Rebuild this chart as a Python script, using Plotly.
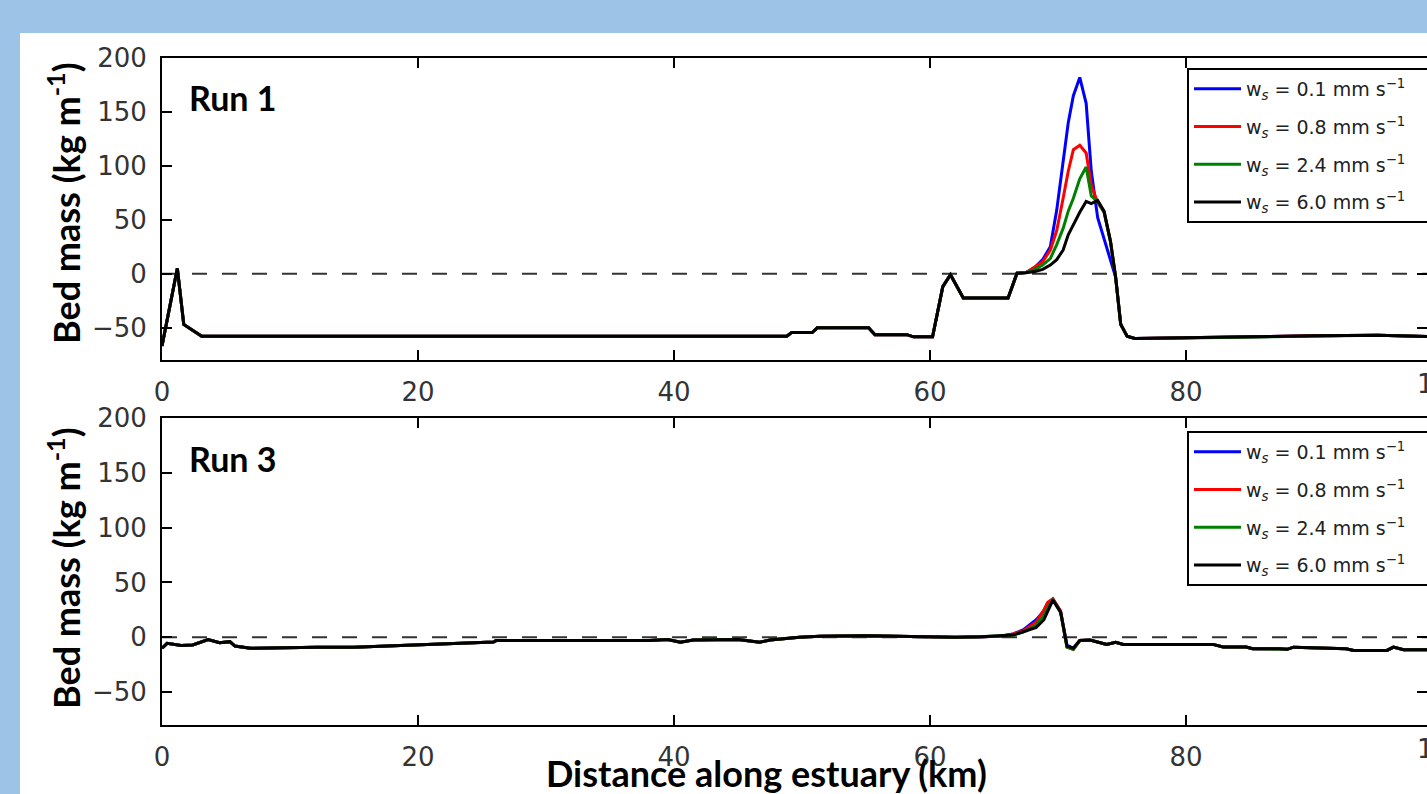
import plotly.graph_objects as go

# ---------------- data ----------------
# Run 1 (top panel)
run1_x = [0, 1.2, 1.7, 3.1, 48.8, 49.2, 50.8, 51.2, 55.2, 55.7, 58.2, 58.7, 60.2, 61.0, 61.6,
          62.6, 66.1, 66.8, 67.5, 68.2, 68.8, 69.4, 69.9, 70.4, 70.8, 71.2, 71.7, 72.2, 72.6,
          73.1, 73.6, 74.1, 74.5, 74.9, 75.4, 76.0, 80, 85, 90, 95, 100]
run1_common = [-67, 5, -47, -58, -58, -54.5, -54.5, -50, -50, -56.5, -56.5, -58.5, -58.5, -12, -1,
               -22.5, -22.5, 0.5, 1]
run1_blue_peak = [6, 13, 25, 59, 106, 140, 165, 182, 158, 95, 52, 32, 14, -3, -47, -58, -60,
                  -59.5, -58.5, -57.5, -57, -58.5]
run1_red_peak = [6, 11, 22, 40, 70, 95, 115, 119, 112, 82, 66, 57, 30, -3, -47, -58, -60,
                 -59.5, -58.5, -57.5, -57, -58.5]
run1_green_peak = [4, 8, 14, 27, 42, 58, 70, 88, 99, 72, 67, 57, 30, -3, -47, -58, -60,
                   -59.5, -58.5, -57.5, -57, -58.5]
run1_black_peak = [2, 4, 8, 13, 22, 36, 46, 57, 67, 65, 68, 58, 30, -3, -47, -58, -60,
                   -59.5, -58.5, -57.5, -57, -58.5]

# Run 3 (bottom panel)
run3_x = [0, 0.4, 1.5, 2.4, 3.6, 4.5, 5.3, 5.7, 6.9, 9, 12.1, 15, 17.3, 20, 22.5, 25.9, 26.1,
          30, 35, 38.1, 39.5, 40.5, 41.5, 43, 45, 46.7, 47.5, 49.8, 51.4, 55, 58, 60, 62, 64,
          65.5, 66.5, 67.3, 68.3, 68.9, 69.2, 69.6, 70.2, 70.7, 71.2, 71.7, 72.5, 73.8, 74.5,
          75.1, 82.1, 82.9, 84.7, 85.2, 87.3, 87.9, 88.4, 92.5, 93.1, 95.7, 96.2, 97, 100]
run3_head = [-10, -5.5, -7.5, -7, -2, -5, -4, -8, -10, -9.5, -9, -9, -8, -7, -5.5, -4.3, -3,
             -3, -3, -3, -2, -4.5, -2.5, -2, -2, -4.5, -2.5, 0, 1, 1.5, 1, 0, 0, 0.5, 1]
run3_blue_peak = [3, 7, 16, 24, 31, 35, 24, -7, -10]
run3_red_peak = [3, 6, 14, 25, 32, 35, 24, -9, -11]
run3_green_peak = [2, 5, 11, 20, 27, 34, 23, -9, -11]
run3_black_peak = [2, 5, 9, 16, 24, 34, 23, -8, -10]
run3_tail = [-3, -2.5, -6.5, -4.5, -6.5, -6.5, -8.8, -8.8, -10.4, -10.4, -11, -9, -10.4, -12,
             -12, -9, -11.3, -11.3]

series_names = ["w<sub><i>s</i></sub> = 0.1 mm s<sup>\u22121</sup>",
                "w<sub><i>s</i></sub> = 0.8 mm s<sup>\u22121</sup>",
                "w<sub><i>s</i></sub> = 2.4 mm s<sup>\u22121</sup>",
                "w<sub><i>s</i></sub> = 6.0 mm s<sup>\u22121</sup>"]
series_colors = ["#0000ff", "#ff0000", "#008000", "#000000"]

x_ticks = [0, 20, 40, 60, 80]
y_ticks = [-50, 0, 50, 100, 150, 200]
panel_labels = ["Run 1", "Run 3"]

# ---------------- figure ----------------
W, H = 1427, 794
ML, MR, MT, MB = 162, 0, 58, 69
PW, PH = W - ML - MR, H - MT - MB
X_MAX = (W - ML) / 12.8  # 0..20 km spans 256 px
PAD = "\u00a0" * 10  # legend box runs past the right edge, as in the source image


def px_x(p):
    return (p - ML) / PW


def px_y(p):
    return (H - MB - p) / PH


fig = go.Figure()

run1_series = [run1_common + s for s in (run1_blue_peak, run1_red_peak, run1_green_peak, run1_black_peak)]
run3_series = [run3_head + s + run3_tail for s in (run3_blue_peak, run3_red_peak, run3_green_peak, run3_black_peak)]

for i, ys in enumerate(run1_series):
    fig.add_trace(go.Scatter(x=run1_x, y=ys, mode="lines", name=series_names[i] + PAD,
                             line=dict(color=series_colors[i], width=3),
                             xaxis="x", yaxis="y", legend="legend",
                             legendgroup="a%d" % i))
for i, ys in enumerate(run3_series):
    fig.add_trace(go.Scatter(x=run3_x, y=ys, mode="lines", name=series_names[i] + PAD,
                             line=dict(color=series_colors[i], width=3),
                             xaxis="x2", yaxis="y2", legend="legend2",
                             legendgroup="b%d" % i))

tickfont = dict(family="DejaVu Sans", size=26, color="#333333")
axis_common = dict(showline=True, linecolor="black", linewidth=2, mirror="ticks",
                   ticks="inside", ticklen=10, tickwidth=1.5, tickcolor="black",
                   showgrid=False, zeroline=False, tickfont=tickfont, ticklabelstandoff=8)

top_dom = [px_y(360), 1.0]
bot_dom = [0.0, px_y(418)]

legend_common = dict(bgcolor="white", bordercolor="black", borderwidth=2,
                     font=dict(family="DejaVu Sans", size=19, color="#222222"),
                     xanchor="left", yanchor="top", tracegroupgap=10,
                     traceorder="grouped", itemwidth=47)

fig.update_layout(
    width=W, height=H,
    margin=dict(l=ML, r=MR, t=MT, b=MB, autoexpand=False),
    paper_bgcolor="#9dc3e6", plot_bgcolor="white",
    xaxis=dict(domain=[0, 1], anchor="y", range=[0, X_MAX], tickvals=x_ticks, **axis_common),
    yaxis=dict(domain=top_dom, anchor="x", range=[-80, 200], tickvals=y_ticks,
               ticktext=["\u221250", "0", "50", "100", "150", "200"], **axis_common),
    xaxis2=dict(domain=[0, 1], anchor="y2", range=[0, X_MAX], tickvals=x_ticks, **axis_common),
    yaxis2=dict(domain=bot_dom, anchor="x2", range=[-80, 200], tickvals=y_ticks,
                ticktext=["\u221250", "0", "50", "100", "150", "200"], **axis_common),
    legend=dict(x=px_x(1187), y=px_y(68), **legend_common),
    legend2=dict(x=px_x(1187), y=px_y(431), **legend_common),
    showlegend=True,
)

# white panel behind the chart
fig.add_shape(type="rect", xref="paper", yref="paper", x0=px_x(20), x1=px_x(W + 5),
              y0=px_y(H + 5), y1=px_y(33), fillcolor="white", line=dict(width=0), layer="below")

# dashed zero lines
for yref, xref in (("y", "x domain"), ("y2", "x2 domain")):
    fig.add_shape(type="line", xref=xref, yref=yref, x0=0, x1=1, y0=0, y1=0,
                  line=dict(color="#333333", width=2, dash="15px,15px"), layer="below")

title_font = dict(family="Lato", size=36, color="black")
run_font = dict(family="Lato", size=34, color="black")
ann = []
for lbl, yc in zip(panel_labels, (97, 458)):
    ann.append(dict(text="<b>%s</b>" % lbl, xref="paper", yref="paper", x=px_x(187), y=px_y(yc),
                    xanchor="left", yanchor="middle", showarrow=False, font=run_font))
for yc in (203, 568):
    ann.append(dict(text="<b>Bed mass (kg m<sup>-1</sup>)</b>", xref="paper", yref="paper",
                    x=px_x(64), y=px_y(yc), xanchor="center", yanchor="middle",
                    textangle=-90, showarrow=False, font=title_font))
ann.append(dict(text="<b>Distance along estuary (km)</b>", xref="paper", yref="paper",
                x=px_x(766), y=px_y(773), xanchor="center", yanchor="middle",
                showarrow=False, font=title_font))
# "100" tick label partly beyond the right edge
for yp in (384, 749):
    ann.append(dict(text="100", xref="paper", yref="paper", x=100 / X_MAX, y=px_y(yp),
                    xanchor="center", yanchor="middle", showarrow=False, font=tickfont))
fig.update_layout(annotations=ann)

fig.write_html("out.html")
